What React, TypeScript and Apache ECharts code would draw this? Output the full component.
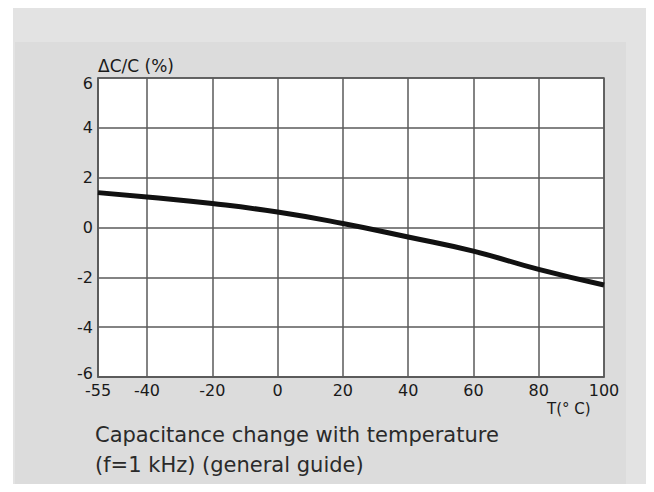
import React, { useEffect, useRef } from "react";
import * as echarts from "echarts";

const temperatures = [-55, -40, -20, 0, 20, 40, 60, 80, 100];
const capChange = [1.4, 1.22, 0.96, 0.62, 0.16, -0.38, -0.95, -1.68, -2.31];
const xTicks = [-55, -40, -20, 0, 20, 40, 60, 80, 100];
const yTicks = [-6, -4, -2, 0, 2, 4, 6];
const yName = "ΔC/C (%)";
const xName = "T(° C)";
const caption = ["Capacitance change with temperature", "(f=1 kHz) (general guide)"];

const FONT = "DejaVu Sans";
const TEXT = "#1a1a1a";
const GRID = "#5a5a5a";

export default function App() {
  const ref = useRef<HTMLDivElement>(null);
  useEffect(() => {
    if (!ref.current) return;
    const chart = echarts.init(ref.current, null, { renderer: "svg" });
    chart.setOption({
      animation: false,
      backgroundColor: "#ffffff",
      graphic: [
        { type: "rect", left: 13, top: 0, shape: { width: 641, height: 492 }, style: { fill: "#e3e3e3" }, z: -10 },
        { type: "rect", left: 15, top: 42, shape: { width: 611, height: 450 }, style: { fill: "#dcdcdc" }, z: -9 },
        {
          type: "text",
          left: 95,
          top: 420,
          style: {
            text: caption.join("\n"),
            font: `21px '${FONT}'`,
            fill: "#2a2a2a",
            lineHeight: 30,
          },
        },
      ],
      grid: {
        left: 98,
        top: 78,
        right: 50,
        bottom: 115,
        show: true,
        backgroundColor: "#ffffff",
        borderColor: GRID,
        borderWidth: 1.5,
        containLabel: false,
      },
      xAxis: {
        type: "value",
        min: -55,
        max: 100,
        name: xName,
        nameLocation: "end",
        nameGap: -57,
        nameTextStyle: {
          fontFamily: FONT,
          fontSize: 15,
          color: TEXT,
          align: "left",
          verticalAlign: "top",
          padding: [24, 0, 0, 0],
        },
        axisLine: { show: true, onZero: false, lineStyle: { color: GRID, width: 1.5 } },
        axisTick: { show: false, customValues: xTicks },
        axisLabel: {
          customValues: xTicks,
          fontFamily: FONT,
          fontSize: 16,
          color: TEXT,
          margin: 5,
        },
        splitLine: { show: true, lineStyle: { color: GRID, width: 1.5 } },
      },
      yAxis: {
        type: "value",
        min: -6,
        max: 6,
        interval: 2,
        name: yName,
        nameLocation: "end",
        nameGap: 4,
        nameTextStyle: {
          fontFamily: FONT,
          fontSize: 17,
          color: TEXT,
          align: "left",
        },
        axisLine: { show: true, onZero: false, lineStyle: { color: GRID, width: 1.5 } },
        axisTick: { show: false },
        axisLabel: {
          customValues: yTicks,
          fontFamily: FONT,
          fontSize: 16,
          color: TEXT,
          margin: 5,
          formatter: (v: number) => (v === -6 ? `{lo|${v}}` : v === 6 ? `{hi|${v}}` : `${v}`),
          rich: {
            lo: { fontFamily: FONT, fontSize: 16, color: TEXT, padding: [0, 0, 8, 0] },
            hi: { fontFamily: FONT, fontSize: 16, color: TEXT, padding: [10, 0, 0, 0] },
          },
        },
        splitLine: { show: true, lineStyle: { color: GRID, width: 1.5 } },
      },
      series: [
        {
          type: "line",
          data: temperatures.map((t, i) => [t, capChange[i]]),
          smooth: true,
          showSymbol: false,
          lineStyle: { color: "#111", width: 5 },
        },
      ],
    });
    return () => chart.dispose();
  }, []);
  return <div ref={ref} style={{ width: 654, height: 492, margin: -8 }} />;
}
